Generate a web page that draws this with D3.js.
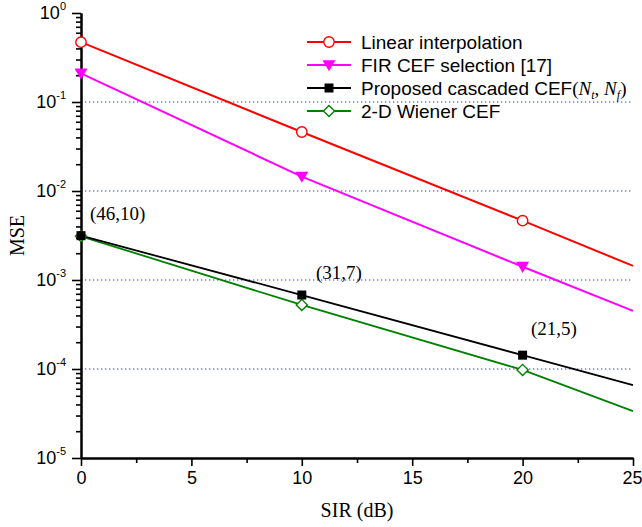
<!DOCTYPE html>
<html>
<head>
<meta charset="utf-8">
<script src="https://cdn.jsdelivr.net/npm/d3@7"></script>
<style>
  html, body { margin: 0; padding: 0; background: #fff; }
  svg { display: block; }
</style>
</head>
<body>
<svg id="chart" width="642" height="527"></svg>
<script>
// SIR sample points (dB)
const sir = [0, 10, 20, 25];
// markers are drawn at the first three points only
const markerCount = 3;

// MSE per method
const linearInterp = [0.47, 0.046, 0.00464, 0.00144];
const firSelection = [0.21, 0.0145, 0.00141, 0.00045];
const proposedCascaded = [0.00315, 0.000678, 0.000143, 0.000066];
const wiener2D = [0.0031, 0.000524, 0.0000975, 0.0000337];

const seriesNames = ["Linear interpolation", "FIR CEF selection [17]", "Proposed cascaded CEF", "2-D Wiener CEF"];
const seriesColors = ["#ff0000", "#ff00ff", "#000000", "#008000"];
const seriesMarkers = ["circle", "triangleDown", "square", "diamond"];

// annotation text: (N_t, N_f) at each SIR point
const annotations = ["(46,10)", "(31,7)", "(21,5)"];

const xTicks = [0, 5, 10, 15, 20, 25];
const xMinorTicks = [2.5, 7.5, 12.5, 17.5, 22.5];
const yExponents = [0, -1, -2, -3, -4, -5];
const gridExponents = [-1, -2, -3, -4];

const svg = d3.select("#chart");
const plotLeft = 81, plotRight = 633, plotTop = 13, plotBottom = 458;

const x = d3.scaleLinear().domain([0, 25]).range([plotLeft, plotRight]);
const y = d3.scaleLog().domain([1e-5, 1]).range([plotBottom, plotTop]);

// dotted grid lines at decades
svg.append("g")
  .selectAll("line")
  .data(gridExponents)
  .join("line")
  .attr("x1", plotLeft).attr("x2", plotRight)
  .attr("y1", d => y(Math.pow(10, d)))
  .attr("y2", d => y(Math.pow(10, d)))
  .attr("stroke", "#2a2aff")
  .attr("stroke-width", 1.2)
  .attr("stroke-dasharray", "1.3,2.7");

// y axis: minor ticks, then major ticks
const yMinor = [];
for (let e = -5; e < 0; e++) for (let m = 2; m <= 9; m++) yMinor.push(m * Math.pow(10, e));
const yMajor = yExponents.map(e => Math.pow(10, e));

const axisStyle = g => {
  g.select(".domain").attr("stroke", "#000").attr("stroke-width", 2);
  g.selectAll(".tick line").attr("stroke", "#000").attr("stroke-width", 1.6);
};

svg.append("g")
  .attr("transform", `translate(${plotLeft},0)`)
  .call(d3.axisLeft(y).tickValues(yMinor).tickSize(5).tickSizeOuter(0).tickFormat(""))
  .call(axisStyle);

svg.append("g")
  .attr("transform", `translate(${plotLeft},0)`)
  .call(d3.axisLeft(y).tickValues(yMajor).tickSize(9).tickSizeOuter(0).tickFormat(""))
  .call(axisStyle);

// y tick labels as 10 with superscript exponent
const yLab = svg.append("g")
  .attr("font-family", "Arial, 'Liberation Sans', sans-serif")
  .attr("fill", "#000");
yExponents.forEach(e => {
  const t = yLab.append("text")
    .attr("x", 66)
    .attr("y", y(Math.pow(10, e)) + 6)
    .attr("text-anchor", "end");
  t.append("tspan").attr("font-size", 18).text("10");
  t.append("tspan").attr("font-size", 11).attr("dy", -9).text(String(e));
});

// x axis
svg.append("g")
  .attr("transform", `translate(0,${plotBottom})`)
  .call(d3.axisBottom(x).tickValues(xMinorTicks).tickSize(5).tickSizeOuter(0).tickFormat(""))
  .call(axisStyle);

const xAxisG = svg.append("g")
  .attr("transform", `translate(0,${plotBottom})`)
  .call(d3.axisBottom(x).tickValues(xTicks).tickSize(8).tickSizeOuter(0).tickPadding(5))
  .call(axisStyle);
xAxisG.selectAll(".tick text")
  .attr("font-family", "Arial, 'Liberation Sans', sans-serif")
  .attr("font-size", 18)
  .attr("fill", "#000");
// the last label sits against the right edge of the page
xAxisG.selectAll(".tick text")
  .filter(d => d === xTicks[xTicks.length - 1])
  .attr("text-anchor", "end")
  .attr("x", 642 - plotRight);

// axis titles
svg.append("text")
  .attr("x", (plotLeft + plotRight) / 2).attr("y", 517)
  .attr("text-anchor", "middle")
  .attr("font-family", "'Times New Roman', 'Liberation Serif', serif")
  .attr("font-size", 20)
  .text("SIR (dB)");

svg.append("text")
  .attr("transform", `translate(24,${(plotTop + plotBottom) / 2}) rotate(-90)`)
  .attr("text-anchor", "middle")
  .attr("font-family", "'Times New Roman', 'Liberation Serif', serif")
  .attr("font-size", 20)
  .text("MSE");

// marker painter
function drawMarker(g, type, color, cx, cy) {
  if (type === "circle") {
    g.append("circle").attr("cx", cx).attr("cy", cy).attr("r", 5.2)
      .attr("fill", "#fff").attr("stroke", color).attr("stroke-width", 1.4);
  } else if (type === "triangleDown") {
    const s = 6.5;
    g.append("path")
      .attr("d", `M${cx - s},${cy - s * 0.75}L${cx + s},${cy - s * 0.75}L${cx},${cy + s * 0.95}Z`)
      .attr("fill", color);
  } else if (type === "square") {
    g.append("rect").attr("x", cx - 4.5).attr("y", cy - 4.5).attr("width", 9).attr("height", 9)
      .attr("fill", color);
  } else if (type === "diamond") {
    const s = 5.6;
    g.append("path")
      .attr("d", `M${cx},${cy - s}L${cx + s},${cy}L${cx},${cy + s}L${cx - s},${cy}Z`)
      .attr("fill", "#fff").attr("stroke", color).attr("stroke-width", 1.4);
  }
}

// series
const allSeries = [linearInterp, firSelection, proposedCascaded, wiener2D];
const line = d3.line().x(d => x(d[0])).y(d => y(d[1]));
const plot = svg.append("g");
// draw from back to front so the red curve sits on top of the others
[3, 2, 1, 0].forEach(i => {
  const pts = sir.map((s, k) => [s, allSeries[i][k]]);
  plot.append("path")
    .attr("d", line(pts))
    .attr("fill", "none")
    .attr("stroke", seriesColors[i])
    .attr("stroke-width", i <= 1 ? 2 : 1.8);
});
[3, 2, 1, 0].forEach(i => {
  for (let k = 0; k < markerCount; k++) {
    drawMarker(plot, seriesMarkers[i], seriesColors[i], x(sir[k]), y(allSeries[i][k]));
  }
});

// (N_t, N_f) annotations near the proposed curve
const annoPos = [[90, 220], [316, 279], [531, 335]];
svg.append("g")
  .attr("font-family", "'Times New Roman', 'Liberation Serif', serif")
  .attr("font-size", 19)
  .selectAll("text")
  .data(annotations)
  .join("text")
  .attr("x", (d, i) => annoPos[i][0])
  .attr("y", (d, i) => annoPos[i][1])
  .text(d => d);

// legend
const legend = svg.append("g");
const legendRows = [42, 65, 88, 111];
const mathFont = "'Times New Roman', 'Liberation Serif', serif";
seriesNames.forEach((name, i) => {
  const ly = legendRows[i];
  legend.append("line")
    .attr("x1", 307).attr("x2", 351).attr("y1", ly).attr("y2", ly)
    .attr("stroke", seriesColors[i]).attr("stroke-width", i <= 1 ? 2 : 1.8);
  drawMarker(legend, seriesMarkers[i], seriesColors[i], 329, ly);
  const t = legend.append("text")
    .attr("x", 361).attr("y", ly + 7)
    .attr("font-family", "Arial, 'Liberation Sans', sans-serif")
    .attr("font-size", 19)
    .text(name);
  if (i === 2) {
    // math part: (N_t, N_f)
    t.append("tspan").attr("font-family", mathFont).text("(");
    t.append("tspan").attr("font-family", mathFont).attr("font-style", "italic").text("N");
    t.append("tspan").attr("font-family", mathFont).attr("font-style", "italic")
      .attr("font-size", 12).attr("dy", 4).text("t");
    t.append("tspan").attr("font-family", mathFont).attr("dy", -4).text(", ");
    t.append("tspan").attr("font-family", mathFont).attr("font-style", "italic").text("N");
    t.append("tspan").attr("font-family", mathFont).attr("font-style", "italic")
      .attr("font-size", 12).attr("dy", 4).text("f");
    t.append("tspan").attr("font-family", mathFont).attr("dy", -4).text(")");
  }
});
</script>
</body>
</html>
